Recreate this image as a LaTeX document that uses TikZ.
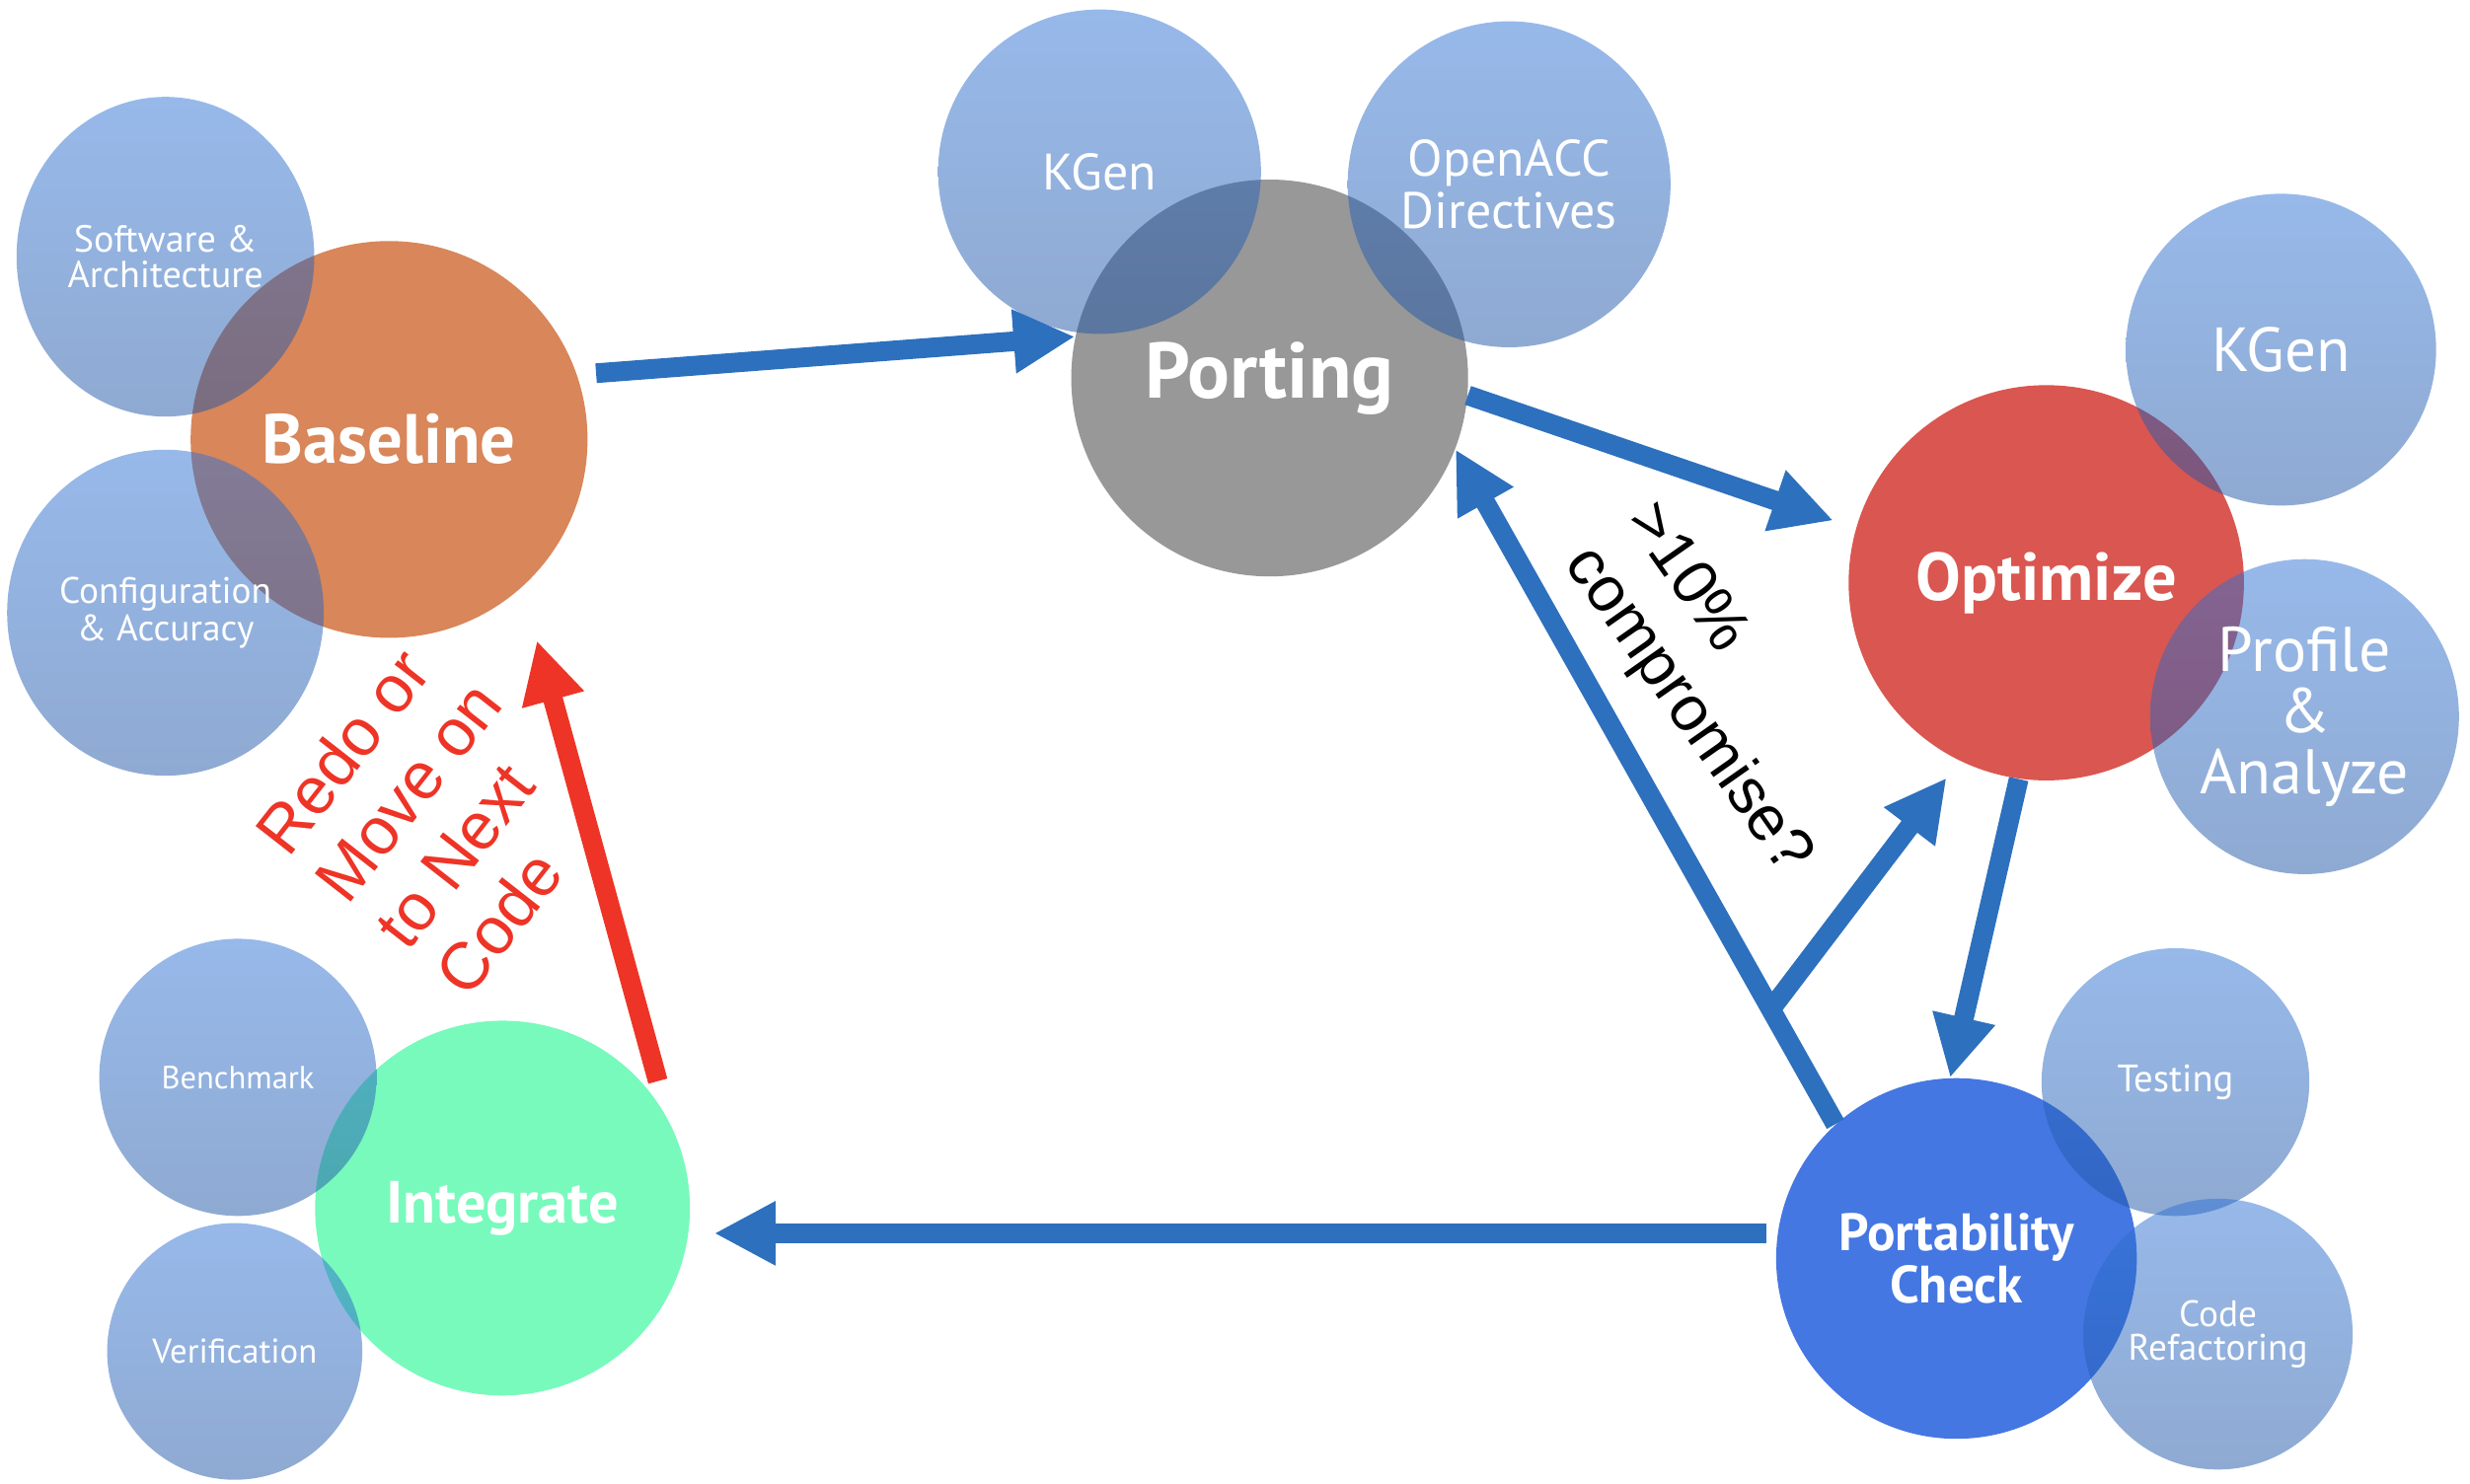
\documentclass[tikz,border=0pt]{standalone}
\usepackage{fontspec}
\usetikzlibrary{shapes.geometric,arrows.meta}
\newfontfamily\bubblefont{PT Sans}
\newfontfamily\notefont{Liberation Sans}
\definecolor{basecol}{RGB}{216,134,90}
\definecolor{portcol}{RGB}{152,152,152}
\definecolor{opticol}{RGB}{218,86,80}
\definecolor{integcol}{RGB}{120,250,188}
\definecolor{checkcol}{RGB}{69,119,226}
\definecolor{outilhaut}{RGB}{47,115,213}
\definecolor{outilbas}{RGB}{31,85,165}
\definecolor{flechebleu}{RGB}{45,112,190}
\definecolor{flecherouge}{RGB}{238,52,38}
\begin{document}
\begin{tikzpicture}[
       x=0.02cm, y=-0.02cm,
       phase/.style={
         circle,
         inner sep=0pt,
         text=white,
         align=center
       },
       outil/.style={
         ellipse,
         inner sep=0pt,
         top color=outilhaut,
         bottom color=outilbas,
         fill opacity=0.5,
         text opacity=1,
         text=white,
         align=center
       },
       fleche/.style={
         line width=0.25cm,
         draw=flechebleu,
         -{Triangle[length=0.78cm,width=0.76cm]}
       }
     ]
       \useasboundingbox (0,0) rectangle (1568,942);

       \node (base) at (247,279) [phase, fill=basecol, minimum size=5.04cm, font=\bubblefont\bfseries\fontsize{25.2}{30}\selectfont]{Baseline};
       \node (port) at (806,240) [phase, fill=portcol, minimum size=5.04cm, font=\bubblefont\bfseries\fontsize{28.5}{34}\selectfont]{Porting};
       \node (opti) at (1299,370) [phase, fill=opticol, minimum size=5.02cm, font=\bubblefont\bfseries\fontsize{24.4}{29}\selectfont]{Optimize};
       \node (check) at (1242,799) [phase, fill=checkcol, minimum size=4.58cm, font=\bubblefont\bfseries\fontsize{19}{18.6}\selectfont]{Portability\\Check};
       \node (integ) at (319,767) [phase, fill=integcol, minimum size=4.76cm, font=\bubblefont\bfseries\fontsize{21.5}{26}\selectfont]{Integrate};

       \node (sw) at (105,163) [outil, minimum width=3.78cm, minimum height=4.06cm, font=\bubblefont\fontsize{13.6}{12.9}\selectfont]{Software \&\\Architecture};
       \node (conf) at (105,389) [outil, minimum width=4.02cm, minimum height=4.14cm, font=\bubblefont\fontsize{13.3}{12.2}\selectfont]{Configuration\\\& Accuracy};
       \node (kgena) at (698,109) [outil, minimum width=4.1cm, minimum height=4.12cm, font=\bubblefont\fontsize{18.5}{20}\selectfont]{KGen};
       \node (acc) at (958,117) [outil, minimum width=4.1cm, minimum height=4.14cm, font=\bubblefont\fontsize{18.5}{18.6}\selectfont]{OpenACC\\Directives};
       \node (kgenb) at (1448,222) [outil, minimum width=3.94cm, minimum height=3.96cm, font=\bubblefont\fontsize{22.5}{26}\selectfont]{KGen};
       \node (prof) at (1463,455) [outil, minimum width=3.92cm, minimum height=4cm, font=\bubblefont\fontsize{22.8}{22.2}\selectfont]{Profile\\\&\\Analyze};
       \node (test) at (1381,687) [outil, minimum size=3.4cm, font=\bubblefont\fontsize{13.8}{15}\selectfont]{Testing};
       \node (refac) at (1408,847) [outil, minimum width=3.42cm, minimum height=3.44cm, font=\bubblefont\fontsize{13.3}{12.35}\selectfont]{Code\\Refactoring};
       \node (bench) at (151,684) [outil, minimum size=3.52cm, font=\bubblefont\fontsize{11.6}{14}\selectfont]{Benchmark};
       \node (verif) at (149,858) [outil, minimum width=3.24cm, minimum height=3.26cm, font=\bubblefont\fontsize{12.4}{14}\selectfont]{Verification};

       \node (redo) at (278,517) [rotate=52, align=left, text=flecherouge, font=\notefont\fontsize{24}{27.5}\selectfont]{Redo or\\Move on\\to Next\\Code};
       \node (compro) at (1090,438) [rotate=-55, align=left, font=\notefont\fontsize{23}{27}\selectfont]{>10\%\\compromise?};

       \draw[fleche, shorten <=0.24cm] (base.19) -- (port.168);
       \draw[fleche, shorten >=0.3cm] (port.-5) -- (opti.164);
       \draw[fleche] (opti.-98) -- (check.92);
       \draw[fleche, shorten <=0.14cm, shorten >=0.3cm] (check.172) -- (check.172 -| integ.east);
       \draw[fleche, draw=flecherouge, shorten <=0.51cm, shorten >=0.7cm] (integ.28) -- (base.-48);
       \draw[fleche] (check.132) -- coordinate[pos=0.17] (fork) (port.-21);
       \draw[fleche, shorten >=0.27cm] (fork) -- (opti.-116);

\end{tikzpicture}
\end{document}
